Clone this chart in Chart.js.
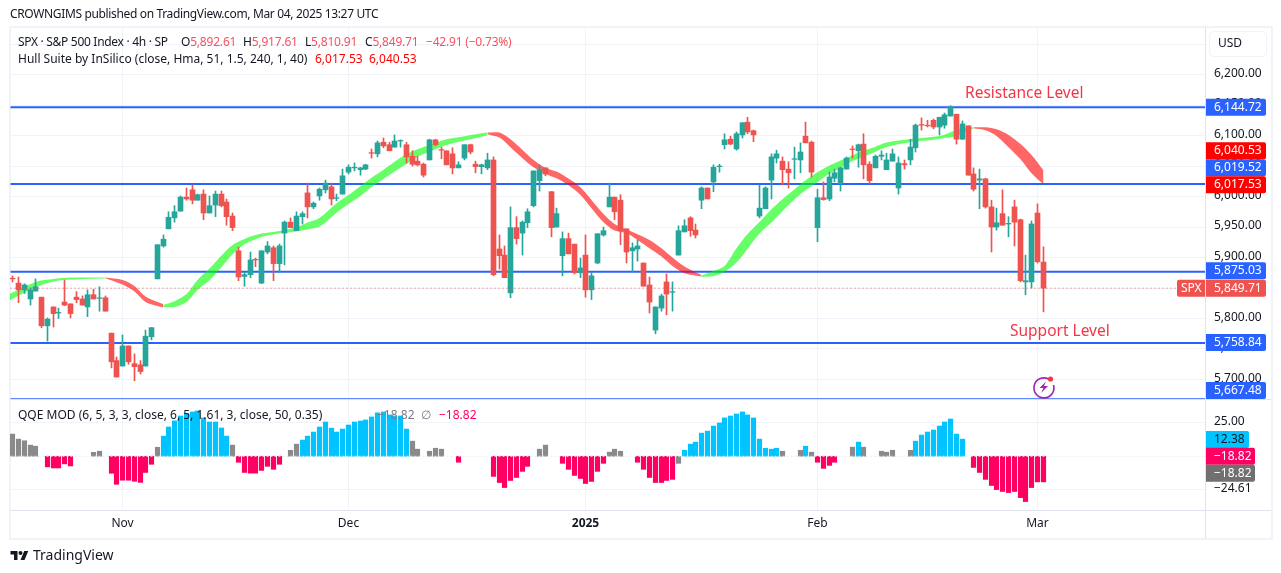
<!DOCTYPE html>
<html>
<head>
<meta charset="utf-8">
<title>SPX 4h</title>
<script src="https://cdn.jsdelivr.net/npm/chart.js@4"></script>
<style>
  html, body { margin: 0; padding: 0; background: #fff; width: 1281px; height: 573px; overflow: hidden; }
  #frame { position: absolute; left: 9px; top: 26px; width: 1260px; height: 510px; border: 2px solid #f0f3fa; }
  #myChart { position: absolute; left: 0; top: 0; }
  .t { position: absolute; font: 12px "Noto Sans", sans-serif; line-height: 16px; white-space: pre; color: #131722; }
  .r { color: #f7525f; }
  .h { color: #ff0000; }
  .note { font-size: 15.5px; line-height: 20px; color: #f23645; }
</style>
</head>
<body>
<div id="frame"></div>
<canvas id="myChart" width="1281" height="573"></canvas>

<div class="t" style="left:10px;top:6px;letter-spacing:-0.35px">CROWNGIMS published on TradingView.com, Mar 04, 2025 13:27 UTC</div>
<div class="t" style="left:18px;top:34px;letter-spacing:-0.3px">SPX · S&amp;P 500 Index · 4h · SP</div>
<div class="t" style="left:181px;top:34px;letter-spacing:-0.2px">O<span class="r">5,892.61</span></div>
<div class="t" style="left:243px;top:34px;letter-spacing:-0.2px">H<span class="r">5,917.61</span></div>
<div class="t" style="left:305px;top:34px;letter-spacing:-0.2px">L<span class="r">5,810.91</span></div>
<div class="t r" style="left:365px;top:34px;letter-spacing:-0.2px"><span style="color:#131722">C</span>5,849.71</div>
<div class="t r" style="left:426px;top:34px;letter-spacing:-0.2px">−42.91 (−0.73%)</div>
<div class="t" style="left:18px;top:51px">Hull Suite by InSilico (close, Hma, 51, 1.5, 240, 1, 40)</div>
<div class="t h" style="left:315px;top:51px">6,017.53</div>
<div class="t h" style="left:369px;top:51px">6,040.53</div>
<div class="t" style="left:18px;top:407px">QQE MOD (6, 5, 3, 3, close, 6, 5, 1.61, 3, close, 50, 0.35)</div>
<div class="t" style="left:377px;top:407px;color:#787b86">−18.82</div>
<div class="t" style="left:421px;top:407px;color:#787b86">∅</div>
<div class="t" style="left:439px;top:407px;color:#ff0062">−18.82</div>
<div class="t note" style="left:965px;top:82px">Resistance Level</div>
<div class="t note" style="left:1010px;top:320px">Support Level</div>

<svg style="position:absolute;left:1030px;top:374px" width="28" height="26" viewBox="0 0 28 26">
  <path d="M18.5 5 A10 10 0 1 0 23.5 11" fill="none" stroke="#9c27b0" stroke-width="1.6"/>
  <path d="M16 7.5 L9.5 14 L13.5 14 L11 19 L18 12 L14 12 Z" fill="#9c27b0"/>
  <circle cx="20.5" cy="5" r="2.6" fill="#f23645"/>
</svg>

<svg style="position:absolute;left:10px;top:549px" width="19" height="13" viewBox="0 0 36 26">
  <path d="M14 22H7V11H0V4h14v18zM28 22h-8l7.5-18h8L28 22z" fill="#131722"/>
  <circle cx="20" cy="8" r="4" fill="#131722"/>
</svg>
<div class="t" style="left:33px;top:547px;font-size:14px;color:#131722">TradingView</div>

<script>
// candles (index 0 = first candle on the left)
const opens = [
  5866,5858,5847,5832,5845,5835,5788,5819,5809,5827,
  5824,5835,5832,5819,5839,5833,5834,5776,5731,5722,
  5755,5726,5724,5722,5770,5865,5919,5947,5965,5976,
  5999,6011,5994,6004,5973,5986,6004,5991,5968,5911,
  5869,5872,5897,5858,5909,5916,5890,5940,5958,5944,
  5967,6006,5983,6001,6011,6016,5997,6004,6040,6047,
  6044,6045,6072,6070,6089,6085,6081,6091,6085,6066,
  6058,6053,6060,6093,6077,6075,6070,6047,6063,6085,
  6053,6049,6047,6060,5914,5904,5842,5949,5940,5957,
  5985,6026,6047,6008,5950,5903,5931,5922,5875,5904,
  5847,5891,5937,5983,5999,5994,5947,5911,5914,5891,
  5855,5781,5817,5860,5843,5904,5942,5965,5945,5994,
  6014,6024,6049,6085,6094,6078,6101,6122,6108,5968,
  5980,6027,6063,6058,6045,6061,6060,6099,6089,5949,
  5998,5996,6030,6021,6045,6078,6075,6086,6053,6047,
  6066,6044,6058,6014,6054,6060,6080,6118,6117,6125,
  6114,6117,6132,6135,6094,6116,6037,6027,6029,5983,
  5950,5972,5955,5983,5962,5860,5860,5973,5892.61
]
const highs = [
  5870,5868,5857,5850,5865,5835,5801,5819,5817,5863,
  5824,5844,5837,5847,5848,5852,5837,5776,5737,5773,
  5755,5742,5731,5781,5785,5921,5937,5975,5985,6001,
  6014,6019,6004,6011,6001,6009,6009,5996,5973,5917,
  5876,5909,5899,5911,5926,5919,5922,5960,5965,5975,
  5975,6022,5991,6014,6027,6022,6004,6045,6052,6055,
  6048,6053,6078,6091,6096,6089,6101,6093,6089,6075,
  6066,6055,6094,6094,6081,6075,6080,6057,6085,6086,
  6058,6053,6071,6065,5937,5919,5983,5967,5960,5980,
  6042,6052,6047,6008,5981,5942,5940,5922,5899,5937,
  5876,5939,5950,6022,5999,6003,5947,5924,5929,5891,
  5868,5819,5840,5873,5860,5952,5962,5967,5955,6016,
  6014,6052,6053,6103,6099,6106,6121,6130,6109,6019,
  6016,6070,6076,6065,6057,6081,6088,6122,6091,6012,
  6024,6040,6045,6048,6065,6083,6086,6103,6057,6068,
  6075,6071,6078,6065,6060,6094,6119,6129,6125,6127,
  6130,6137,6149,6135,6124,6116,6047,6045,6030,5994,
  5981,6011,5967,5994,5963,5904,5960,5988,5917.61
]
const lows = [
  5860,5826,5841,5822,5845,5785,5763,5786,5800,5821,
  5801,5826,5822,5803,5832,5812,5812,5719,5704,5722,
  5725,5698,5709,5722,5765,5865,5917,5947,5958,5976,
  5994,5988,5994,5962,5973,5967,5983,5953,5944,5862,
  5853,5867,5885,5857,5906,5862,5876,5888,5949,5944,
  5955,5965,5980,5994,6006,5986,5993,6004,6037,6042,
  6035,6044,6063,6065,6080,6075,6081,6081,6055,6050,
  6050,6032,6060,6083,6062,6052,6037,6047,6060,6070,
  6039,6037,6044,5870,5881,5867,5834,5922,5904,5949,
  5983,6009,6034,5934,5950,5870,5906,5873,5867,5835,
  5831,5890,5935,5983,5962,5921,5891,5876,5894,5853,
  5809,5775,5812,5806,5812,5904,5942,5935,5932,5980,
  5996,6008,6040,6078,6085,6076,6096,6103,6090,5965,
  5980,5996,6055,6019,6014,6029,6039,6088,6032,5926,
  5994,5993,6024,6009,6045,6063,6048,6029,6021,6047,
  6060,6044,6058,6004,6045,6052,6073,6109,6114,6111,
  6101,6112,6132,6086,6094,6035,6009,5980,5981,5909,
  5945,5953,5934,5919,5860,5839,5850,5891,5810.91
]
const closes = [
  5865,5847,5855,5847,5852,5788,5799,5808,5810,5822,
  5808,5831,5822,5839,5832,5834,5812,5729,5704,5755,
  5729,5721,5713,5771,5785,5921,5930,5966,5975,5999,
  5996,5994,6003,5973,5985,6004,5985,5967,5949,5868,
  5872,5896,5896,5911,5919,5890,5919,5958,5949,5968,
  5972,5983,5989,6012,6022,5996,5998,6034,6048,6048,
  6047,6052,6071,6088,6083,6075,6091,6092,6065,6053,
  6052,6035,6093,6085,6076,6052,6047,6052,6085,6073,
  6049,6052,6060,5872,5903,5867,5949,5931,5958,5975,
  6042,6044,6037,5949,5972,5931,5906,5875,5883,5847,
  5870,5939,5944,5999,5975,5944,5909,5916,5919,5853,
  5827,5819,5837,5840,5844,5944,5952,5944,5937,6014,
  5996,6048,6050,6093,6086,6103,6121,6106,6101,5981,
  6014,6065,6070,6044,6039,6062,6073,6088,6040,5998,
  5995,6032,6039,6047,6063,6077,6085,6052,6026,6066,
  6068,6060,6070,6055,6052,6081,6117,6117,6116,6114,
  6130,6134,6147,6094,6119,6035,6012,6029,5983,5950,
  5957,5953,5956,5958,5862,5862,5955,5893,5849.71
]

// hull ribbon: an index that repeats means the ribbon changes colour there
const hullIdx = [
  -1,4,7,10,13,16,
  16,19,21,23,26,
  26,28,30,32,34,36,38,40,43,46,49,51,53,56,58,60,62,64,66,68,70,72,75,78,81,82,
  82,84,86,88,90,92,94,96,98,100,102,104,106,108,110,112,114,116,118,119,
  119,121,123,125,127,129,131,133,135,137,139,141,143,145,147,149,151,153,156,159,161,163,165,166,
  166,168,170,172,174,176,178
]
const hullUpper = [
  5838,5860,5864.9,5867.1,5867.1,5867.1,
  5867.1,5863.3,5853.4,5836,5823.4,
  5822.3,5828.3,5840.3,5863.3,5881.8,5903.2,5920.6,5930.5,5939.2,5943.6,5949.6,5957.3,5964.9,5988.9,6002.6,6017.4,6031,6044.1,6057.2,6069.8,6077.5,6084.6,6093.8,6098.8,6103.7,6104.8,
  6104.8,6104.8,6093.8,6076.4,6060,6046.9,6040.9,6029.4,6015.2,5994.4,5971.5,5955.1,5946.3,5938.1,5928.8,5915.2,5899.9,5885.1,5875.8,5871.5,
  5870.4,5878,5886.2,5915.2,5938.7,5958.3,5979.1,5995.5,6011.9,6026.6,6039.8,6050.7,6058.9,6067.6,6075.3,6081.8,6088.4,6091.7,6095,6098.2,6101.5,6109.1,6113,6113.5,
  6113.5,6113.5,6110.2,6101,6086.2,6068.2,6043
]
const hullLower = [
  5827.2,5850.7,5860.5,5863.8,5864.9,5865.5,
  5866,5855.6,5844.1,5827.2,5817.9,
  5818.5,5819,5827.2,5846.9,5862.7,5884,5905.3,5921.7,5933.8,5939.2,5942.5,5946.3,5950.7,5973.6,5987.8,6001,6015.7,6028.8,6040.9,6053.4,6065.4,6073.6,6084.6,6091.7,6098.2,6100.4,
  6102.1,6096.6,6080.7,6062.7,6048,6037,6029.9,6018.4,6002.6,5980.7,5957.8,5944.1,5939.8,5928.8,5915.2,5901.5,5886.2,5874.2,5870.4,5868.7,
  5868.2,5869.8,5876.4,5891.7,5914.1,5939.2,5957.8,5976.4,5995.5,6010.3,6023.4,6037.6,6046.9,6058.3,6065.4,6073.6,6081.3,6085.7,6090.6,6093.3,6096,6099.3,6109.1,6111.3,
  6111.9,6108.6,6099.3,6080.7,6061.1,6038.1,6020
]

// QQE histogram, one pair of arrays per colour
const qqeGrayIdx = [0,1,2,3,4,14,15,25,38,48,49,69,70,72,73,74,91,92,103,104,105,115,133,136,138,145,147,150,151,152,155]
const qqeGrayVal = [16.3,12.6,11.4,8.2,7.4,2.9,3.7,6.6,8.2,4.4,8.9,11.1,5.2,3.7,5.9,5.2,5.2,8.2,3,5.2,3.7,-5.2,3.7,4.4,3,6.7,6.7,3.7,3,4.4,4.4]
const qqeBlueIdx = [
  26,27,28,29,30,31,32,33,34,35,36,37,
  50,51,52,53,54,55,56,57,58,59,60,61,62,63,64,65,66,67,68,
  116,117,118,119,120,121,122,123,124,125,126,127,128,129,130,131,132,
  137,146,
  156,157,158,159,160,161,162,163,164
]
const qqeBlueVal = [
  14.8,21.5,26,29.6,31.6,32.6,33.3,28.2,25.2,25.2,20.8,14.8,
  11.9,14.8,17.8,21.5,25.2,20.7,17.8,20,23,25.2,25.9,26.7,28.9,31.9,32.6,30.4,29.6,29.6,20,
  4.4,8.9,10.4,17,18.5,22.2,24.5,28.2,29.6,31.1,32.6,30.4,28.2,12.6,5.9,5.2,5.9,
  7.4,10.4,
  11.1,15.6,17.8,19.3,22.2,25.2,27.4,16.3,12.6
]
const qqePinkIdx = [
  6,7,8,9,10,
  17,18,19,20,21,22,23,24,
  39,40,41,42,43,44,45,46,
  77,
  83,84,85,86,87,88,89,
  95,96,97,98,99,100,101,102,
  108,109,110,111,112,113,114,
  139,140,141,142,
  166,167,168,169,170,171,172,173,174,175,176,177,178
]
const qqePinkVal = [
  -7.8,-8.6,-8.6,-5.6,-7.1,
  -12.5,-20.6,-17.6,-17.6,-18.4,-19.2,-11.9,-5.9,
  -4.4,-11.9,-12.4,-12.4,-10.4,-7.4,-9.6,-5.9,
  -4.4,
  -14.8,-19.3,-23,-17.8,-15.6,-11.1,-7.4,
  -5.2,-9.6,-14.1,-16.3,-20,-18.5,-11.1,-5.2,
  -4.4,-9.6,-15.6,-19.3,-19.3,-17.8,-17,
  -4.4,-8.9,-6.7,-4.4,
  -8.2,-11.9,-17,-21.5,-24.5,-25.9,-26.7,-25.9,-30.4,-33.3,-23,-18.82,-18.82
]

// blue levels as they sit on the picture
const levels = [6146.5,6020.5,5876.5,5759.7,5667.5]
const lastClose = 5849.71

// axes
const priceTicks = [6250,6200,6150,6100,6050,6000,5950,5900,5850,5800,5750,5700]
const qqeTicks = [25,-24.61]
const monthIdx = [19,58,99,139,177]
const monthLabels = ["Nov","Dec","2025","Feb","Mar"]

// tags on the right axis
const tagValues = [6144.72,6040.53,6019.52,6017.53,5875.03,5849.71,5758.84,5667.48]
const qqeTagValues = [12.38,-18.82,-18.82]

const xMin = -0.46
const xMax = 205.93
const textFont = '"Noto Sans", sans-serif'

const fmt = v => v.toLocaleString("en-US", { minimumFractionDigits: 2, maximumFractionDigits: 2 }).replace("-", "−")

// same order as tagValues
const tagColors = ["#2962ff","#ff0000","#2962ff","#ff0000","#2962ff","#ef5350","#2962ff","#2962ff"]
const tagShift = [-1,-21,-17,-1,-2,0,-1,-8.7]
const qqeTagColors = ["#00c3ff","#ff0062","#707070"]
const qqeTagText = ["#131722","#fff","#fff"]
const qqeTagShift = [0,-25.6,-8.6]
const qqeTagRight = [1249,1255,1255]

const candleColor = opens.map((o, i) => closes[i] >= o ? "#26a69a" : "#ef5350")

const datasets = []

// candles on top of everything but the dotted line
datasets.push({
  type: "line", order: 0, yAxisID: "y", borderColor: "#ef5350", borderWidth: 1, borderDash: [1, 3], pointRadius: 0,
  data: [{ x: xMin, y: lastClose }, { x: xMax, y: lastClose }]
})
datasets.push({
  order: 1, yAxisID: "y", grouped: false, barThickness: 5, backgroundColor: candleColor,
  data: opens.map((o, i) => ({ x: i, y: [o, closes[i]] }))
})
datasets.push({
  order: 2, yAxisID: "y", grouped: false, barThickness: 1, backgroundColor: candleColor,
  data: opens.map((o, i) => ({ x: i, y: [lows[i], highs[i]] }))
})

// hull ribbon, split where the index repeats
let tramoInicio = 0
let verde = true
for (let k = 1; k <= hullIdx.length; k++) {
  if (k === hullIdx.length || hullIdx[k] === hullIdx[k - 1]) {
    const color = verde ? "rgba(0,255,0,0.6)" : "rgba(255,0,0,0.6)"
    const tramo = hullIdx.slice(tramoInicio, k)
    datasets.push({
      type: "line", order: 3, yAxisID: "y", borderWidth: 0, pointRadius: 0, tension: 0.3, fill: false,
      data: tramo.map((x, j) => ({ x, y: hullLower[tramoInicio + j] }))
    })
    datasets.push({
      type: "line", order: 3, yAxisID: "y", borderWidth: 0, pointRadius: 0, tension: 0.3, fill: "-1", backgroundColor: color,
      data: tramo.map((x, j) => ({ x, y: hullUpper[tramoInicio + j] }))
    })
    tramoInicio = k
    verde = !verde
  }
}

levels.forEach(v => {
  datasets.push({
    type: "line", order: 4, yAxisID: "y", borderColor: "#2962ff", borderWidth: 2, pointRadius: 0,
    data: [{ x: xMin, y: v }, { x: xMax, y: v }]
  })
})

// QQE pane
datasets.push({
  type: "line", order: 0, yAxisID: "y2", borderColor: "#e8ebf1", borderWidth: 1, borderDash: [2, 2], pointRadius: 0,
  data: [{ x: xMin, y: 0 }, { x: xMax, y: 0 }]
})
const qqeBars = (idx, vals, color) => datasets.push({
  order: 1, yAxisID: "y2", grouped: false, barThickness: 4.5, backgroundColor: color,
  data: idx.map((x, j) => ({ x, y: vals[j] }))
})
qqeBars(qqeGrayIdx, qqeGrayVal, "#8a8a8a")
qqeBars(qqeBlueIdx, qqeBlueVal, "#00c3ff")
qqeBars(qqePinkIdx, qqePinkVal, "#ff0062")

// tags, USD box and pane separators
const rightAxis = {
  id: "rightAxis",
  afterDraw(chart) {
    const ctx = chart.ctx
    const { y, y2, x } = chart.scales
    const divider = "#e0e3eb"

    ctx.save()
    ctx.strokeStyle = divider
    ctx.lineWidth = 1
    ctx.beginPath()
    ctx.moveTo(10, Math.round(y.bottom) + 0.5)
    ctx.lineTo(1271, Math.round(y.bottom) + 0.5)
    ctx.moveTo(10, Math.round(y2.bottom) + 0.5)
    ctx.lineTo(1271, Math.round(y2.bottom) + 0.5)
    ctx.moveTo(Math.round(x.right) + 0.5, 27)
    ctx.lineTo(Math.round(x.right) + 0.5, 538)
    ctx.stroke()

    // USD box
    ctx.fillStyle = "#fff"
    ctx.strokeStyle = "#f0f3fa"
    ctx.lineWidth = 1
    ctx.beginPath()
    ctx.roundRect(1209.5, 31.5, 57, 25, 4)
    ctx.fill()
    ctx.stroke()

    ctx.font = "12px " + textFont
    ctx.textBaseline = "middle"
    ctx.textAlign = "left"
    ctx.fillStyle = "#131722"
    ctx.fillText("USD", 1218, 44)

    const tag = (cy, right, color, textColor, text) => {
      ctx.fillStyle = color
      ctx.beginPath()
      ctx.roundRect(1206, cy - 8.5, right - 1206, 17, [0, 2, 2, 0])
      ctx.fill()
      ctx.fillStyle = textColor
      ctx.fillText(text, 1214, cy)
    }

    // SPX flag goes first, the price tag touches it
    const cierre = y.getPixelForValue(lastClose)
    ctx.fillStyle = "#ef5350"
    ctx.beginPath()
    ctx.roundRect(1177, cierre - 8.5, 28, 17, [2, 0, 0, 2])
    ctx.fill()
    ctx.fillStyle = "#fff"
    ctx.fillText("SPX", 1181, cierre)

    tagValues.forEach((v, i) => tag(y.getPixelForValue(v) + tagShift[i], 1266, tagColors[i], "#fff", fmt(v)))
    qqeTagValues.forEach((v, i) => tag(y2.getPixelForValue(v) + qqeTagShift[i], qqeTagRight[i], qqeTagColors[i], qqeTagText[i], fmt(v)))
    ctx.restore()
  }
}

const axisFit = s => { s.width = 66 }
const gridColor = "#f0f3fa"

new Chart(document.getElementById("myChart").getContext("2d"), {
  type: "bar",
  data: { datasets },
  plugins: [rightAxis],
  options: {
    responsive: false,
    animation: false,
    events: [],
    layout: { padding: { left: 10, top: 27, right: 10, bottom: 35 } },
    plugins: { legend: { display: false }, tooltip: { enabled: false } },
    scales: {
      x: {
        type: "linear",
        offset: false,
        min: xMin,
        max: xMax,
        border: { display: false },
        grid: { color: gridColor, drawTicks: false, offset: false },
        afterFit: s => { s.height = 28 },
        afterBuildTicks: s => { s.ticks = monthIdx.map(v => ({ value: v })) },
        // velas en pixel entero para que las mechas queden nitidas
        afterUpdate: s => {
          if (!s.pixelRecto) {
            const original = s.getPixelForValue.bind(s)
            s.getPixelForValue = v => Math.floor(original(v)) + 0.5
            s.pixelRecto = true
          }
        },
        ticks: {
          autoSkip: false,
          maxRotation: 0,
          padding: 6,
          color: "#131722",
          font: ctx => ({ family: textFont, size: 12, weight: ctx.tick && ctx.tick.value === 99 ? "bold" : "normal" }),
          callback: v => monthLabels[monthIdx.indexOf(v)]
        }
      },
      y: {
        position: "right",
        stack: "panes",
        stackWeight: 372,
        min: 5668,
        max: 6278,
        border: { display: false },
        grid: { color: gridColor, drawTicks: false },
        afterFit: axisFit,
        afterBuildTicks: s => { s.ticks = priceTicks.map(v => ({ value: v })) },
        ticks: { autoSkip: false, padding: 9, labelOffset: -1, color: "#131722", font: { family: textFont, size: 12 }, callback: v => fmt(v) }
      },
      y2: {
        position: "right",
        stack: "panes",
        stackWeight: 111,
        min: -39.5,
        max: 42.1,
        border: { display: false },
        grid: { color: gridColor, drawTicks: false },
        afterFit: axisFit,
        afterBuildTicks: s => { s.ticks = qqeTicks.map(v => ({ value: v })) },
        ticks: { autoSkip: false, padding: 9, labelOffset: -1, color: "#131722", font: { family: textFont, size: 12 }, callback: v => fmt(v) }
      }
    }
  }
})
</script>
</body>
</html>
